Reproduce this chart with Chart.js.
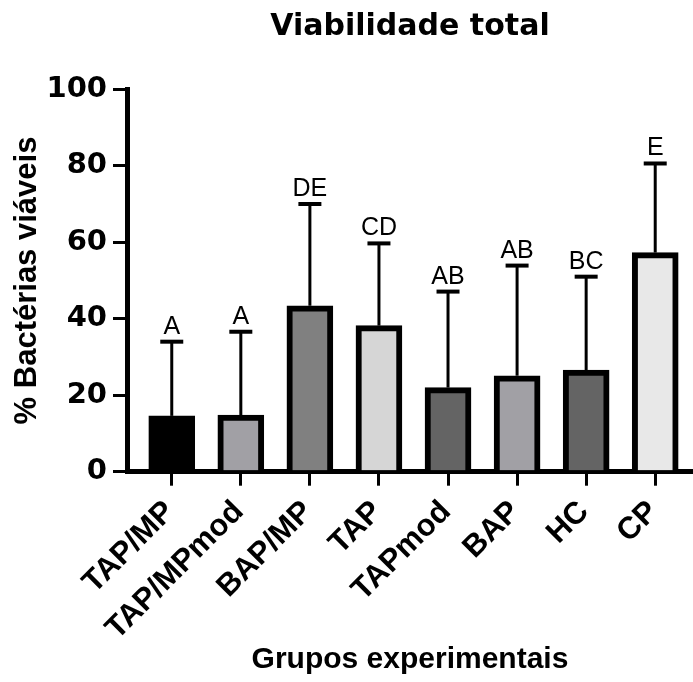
<!DOCTYPE html>
<html>
<head>
<meta charset="utf-8">
<script src="https://cdn.jsdelivr.net/npm/chart.js@4.4.0/dist/chart.umd.min.js"></script>
<style>
  body { margin: 0; background: #fff; }
  canvas { display: block; }
</style>
</head>
<body>
<canvas id="chart" width="693" height="682"></canvas>
<script>
// data
const groups = ['TAP/MP', 'TAP/MPmod', 'BAP/MP', 'TAP', 'TAPmod', 'BAP', 'HC', 'CP'];
const means = [14.6, 14.8, 43.4, 38.2, 22.0, 25.1, 26.6, 57.3];
const sds = [19.4, 21.8, 26.6, 21.5, 25.1, 28.8, 24.4, 23.3];
const letters = ['A', 'A', 'DE', 'CD', 'AB', 'AB', 'BC', 'E'];
const barColors = ['#000000', '#a1a0a5', '#808080', '#d6d6d6', '#646464', '#a1a0a5', '#646464', '#e8e8e8'];
const yTicks = [0, 20, 40, 60, 80, 100];

const arial = '"Liberation Sans", Arial, Helvetica, sans-serif';
const wide = '"DejaVu Sans", Verdana, sans-serif';
Chart.defaults.font.family = arial;
Chart.defaults.color = '#000';

// one-sided SD bars + significance letters
const errorBars = {
    id: 'errorBars',
    afterDatasetsDraw(chart) {
        const { ctx, scales: { x, y } } = chart;
        ctx.save();
        ctx.strokeStyle = '#000';
        ctx.fillStyle = '#000';
        groups.forEach((g, i) => {
            const px = x.getPixelForValue(i);
            const yMean = y.getPixelForValue(means[i]);
            const yTop = y.getPixelForValue(means[i] + sds[i]);
            ctx.lineWidth = 3;
            ctx.beginPath();
            ctx.moveTo(px, yMean);
            ctx.lineTo(px, yTop);
            ctx.stroke();
            ctx.lineWidth = 4;
            ctx.beginPath();
            ctx.moveTo(px - 11.5, yTop);
            ctx.lineTo(px + 11.5, yTop);
            ctx.stroke();
            ctx.font = '25px ' + arial;
            ctx.textAlign = 'center';
            ctx.textBaseline = 'alphabetic';
            ctx.fillText(letters[i], px, yTop - 8);
        });
        ctx.restore();
    }
};

new Chart(document.getElementById('chart'), {
    type: 'bar',
    data: {
        datasets: [{
            data: means.map((m, i) => ({ x: i, y: m })),
            backgroundColor: barColors,
            borderColor: '#000',
            borderWidth: 6,
            barThickness: 46
        }]
    },
    options: {
        responsive: false,
        animation: false,
        layout: { padding: 0 },
        plugins: {
            legend: { display: false },
            tooltip: { enabled: false },
            title: {
                display: true,
                text: 'Viabilidade total',
                fullSize: false,
                font: { family: wide, size: 30, weight: 'bold', lineHeight: 1.2 },
                color: '#000',
                padding: { top: 9, bottom: 44.3 }
            }
        },
        scales: {
            x: {
                type: 'linear',
                min: -0.648,
                max: 7.547,
                offset: false,
                border: { color: '#000', width: 5 },
                grid: { offset: false, drawOnChartArea: false, tickLength: 14, lineWidth: 3, color: '#000' },
                ticks: {
                    stepSize: 1,
                    autoSkip: false,
                    includeBounds: false,
                    minRotation: 45,
                    maxRotation: 45,
                    padding: 8,
                    labelOffset: -2,
                    color: '#000',
                    font: { size: 31, weight: 'bold' },
                    callback: v => groups[v] ?? ''
                },
                title: {
                    display: true,
                    text: 'Grupos experimentais',
                    color: '#000',
                    font: { size: 30, weight: 'bold' },
                    padding: { top: 0, bottom: 4 }
                },
                afterFit: scale => { scale.height = 210.3; }
            },
            y: {
                min: 0,
                max: 100,
                border: { color: '#000', width: 5 },
                grid: { drawOnChartArea: false, tickLength: 14, lineWidth: 3, color: '#000' },
                afterBuildTicks: scale => { scale.ticks = yTicks.map(v => ({ value: v })); },
                ticks: {
                    padding: 6,
                    color: '#000',
                    font: { family: wide, size: 29, weight: 'bold' }
                },
                title: {
                    display: true,
                    text: '% Bactérias viáveis',
                    color: '#000',
                    font: { size: 31, weight: 'bold' },
                    padding: { top: 9, bottom: 0 }
                },
                afterFit: scale => { scale.width = 127; }
            }
        }
    },
    plugins: [errorBars]
});
</script>
</body>
</html>
